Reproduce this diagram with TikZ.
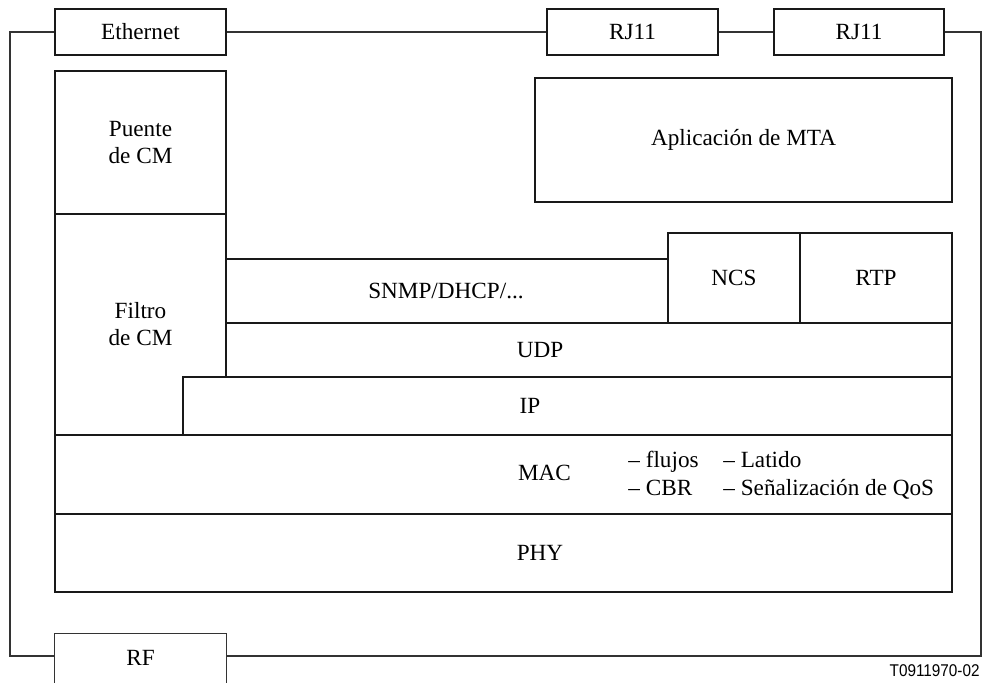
\documentclass[tikz,border=0pt]{standalone}
\usepackage{fontspec}
\usepackage{graphicx}
\setmainfont{Liberation Serif}
\newfontfamily\labelfont{Liberation Sans}
\begin{document}
\begin{tikzpicture}[x=0.5pt,y=-0.5pt,
  every node/.style={font=\fontsize{11.6}{13.5}\selectfont},
  box/.style={draw=black!90, line width=0.65pt, inner sep=0pt, align=center},
  txt/.style={inner sep=0pt},
  wire/.style={draw=black!80, line width=0.65pt}]
\useasboundingbox (0,0) rectangle (984,682);
\clip (0,0) rectangle (984,682);
% connectors' boxes
\node[box, minimum width=85.5pt, minimum height=23pt] (eth) at (140.5,32) {Ethernet};
\node[box, minimum width=85.5pt, minimum height=23pt] (rj1) at (632.5,32) {RJ11};
\node[box, minimum width=85pt, minimum height=23pt] (rj2) at (859,32) {RJ11};
\node[inner sep=0pt, minimum width=85.5pt, minimum height=22pt] (rf) at (140.5,656) {};
\node[txt] (rftxt) at (140.5,658) {RF};
\draw[wire] ([yshift=-20pt]rf.south west) -- (rf.north west) -- (rf.north east) -- ([yshift=-20pt]rf.south east);
% stack
\node[box, minimum width=85.5pt, minimum height=71.5pt] (puente) at (140.5,142.5) {Puente\\de CM};
\node[box, minimum width=85.5pt, minimum height=110.5pt] (filtro) at (140.5,324.5) {Filtro\\de CM};
\node[box, minimum width=208.5pt, minimum height=62pt] (apl) at (743.5,140) {Aplicación de MTA};
\node[box, minimum width=221pt, minimum height=32pt] (snmp) at (447,291) {};
\node[txt] (snmptxt) at (446,291) {SNMP/DHCP/...};
\node[box, minimum width=66pt, minimum height=45pt] (ncs) at (734,278) {NCS};
\node[box, minimum width=76pt, minimum height=45pt] (rtp) at (876,278) {RTP};
\node[box, minimum width=363pt, minimum height=27pt] (udp) at (589,350) {};
\node[txt] (udptxt) at (540,350) {UDP};
\node[box, fill=white, minimum width=384.5pt, minimum height=29pt] (ip) at (567.5,406) {};
\node[txt] (iptxt) at (530,406) {IP};
\node[box, minimum width=448.5pt, minimum height=39.5pt] (mac) at (503.5,474.5) {};
\node[txt, anchor=base] (mactxt) at (544.5,480) {MAC};
\node[txt, anchor=base west] (fl) at (628,467) {– flujos};
\node[txt, anchor=base west] (la) at (723,467) {– Latido};
\node[txt, anchor=base west] (cbr) at (628,495) {– CBR};
\node[txt, anchor=base west] (qos) at (723,495) {– Señalización de QoS};
\node[box, minimum width=448.5pt, minimum height=39pt] (phy) at (503.5,553) {};
\node[txt] (phytxt) at (540,553) {PHY};
% wiring
\coordinate (tl) at (10,32);
\coordinate (bl) at (10,656);
\coordinate (tr) at (981,32);
\coordinate (br) at (981,656);
\draw[wire] (eth.west) -- (tl) -- (bl) -- (rf.west);
\draw[wire] (eth.east) -- (rj1.west);
\draw[wire] (rj1.east) -- (rj2.west);
\draw[wire] (rj2.east) -- (tr) -- (br) -- (rf.east);
% figure label
\node[inner sep=0pt, anchor=base east, font=\labelfont\fontsize{8.5}{10}\selectfont] (fig) at (980,676) {\scalebox{0.9}[1]{T0911970-02}};
\end{tikzpicture}
\end{document}
